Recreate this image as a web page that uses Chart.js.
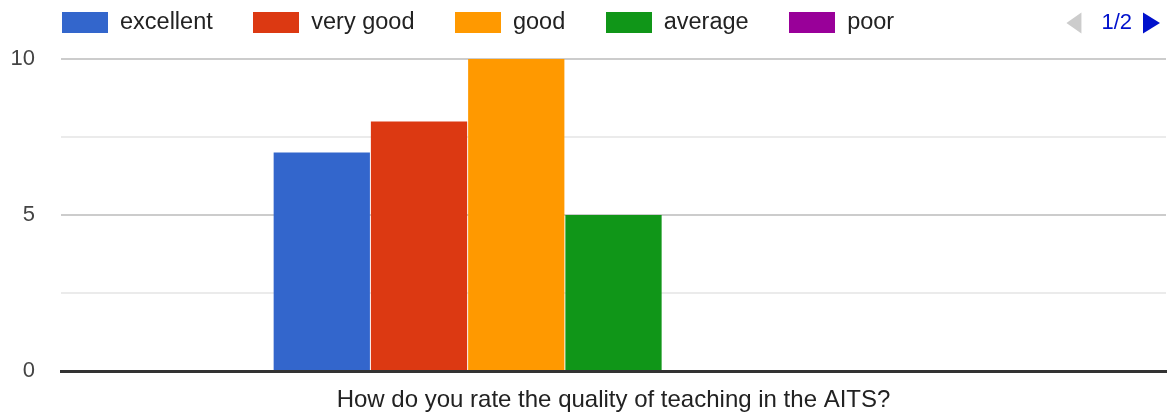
<!DOCTYPE html>
<html>
<head>
<meta charset="utf-8">
<script src="https://cdn.jsdelivr.net/npm/chart.js@4/dist/chart.umd.min.js"></script>
<style>
  html, body { margin: 0; padding: 0; background: #ffffff; }
  #wrap { width: 1170px; height: 414px; }
</style>
</head>
<body>
<div id="wrap"><canvas id="c" width="1170" height="414"></canvas></div>
<script>
// ---- data ----
const categories = ["How do you rate the quality of teaching in the AITS?"];
const seriesNames = ["excellent", "very good", "good", "average", "poor", "(page 2 a)", "(page 2 b)"];
const excellent = [7];
const veryGood = [8];
const good = [10];
const average = [5];
const poor = [0];
const page2a = [0];
const page2b = [0];
const yTickLabels = [0, 5, 10];
const legendPageLabel = "1/2";
const legendShownCount = 5;

// ---- style ----
const colors = ["#3366cc", "#dc3912", "#ff9900", "#109618", "#990099", "#0099c6", "#dd4477"];
const FONT = '"Liberation Sans", Arial, sans-serif';
const seriesValues = [excellent, veryGood, good, average, poor, page2a, page2b];

const legendPlugin = {
  id: 'gLegend',
  afterDraw(chart) {
    const ctx = chart.ctx;
    ctx.save();
    ctx.font = '23.5px ' + FONT;
    ctx.textBaseline = 'middle';
    ctx.textAlign = 'left';
    let x = 62;
    const boxW = 46, boxH = 21, boxY = 12, textGap = 12, itemGap = 40.5;
    const midY = 23;
    chart.data.datasets.slice(0, legendShownCount).forEach(ds => {
      ctx.fillStyle = ds.backgroundColor;
      ctx.fillRect(Math.round(x), boxY, boxW, boxH);
      x += boxW + textGap;
      ctx.fillStyle = '#222222';
      ctx.fillText(ds.label, x, midY);
      x += ctx.measureText(ds.label).width + itemGap;
    });
    // paging controls
    const right = 1160;
    const aTop = 12.5, aBot = 33.5;
    // right arrow (active)
    ctx.fillStyle = '#0011cc';
    ctx.beginPath();
    ctx.moveTo(right - 17, aTop);
    ctx.lineTo(right, (aTop + aBot) / 2);
    ctx.lineTo(right - 17, aBot);
    ctx.closePath();
    ctx.fill();
    // page text
    ctx.font = '22px ' + FONT;
    ctx.textAlign = 'right';
    const textRight = 1132;
    ctx.fillText(legendPageLabel, textRight, midY);
    const tw = ctx.measureText(legendPageLabel).width;
    // left arrow (disabled)
    const lx = textRight - tw - 20;
    ctx.fillStyle = '#cccccc';
    ctx.beginPath();
    ctx.moveTo(lx, aTop);
    ctx.lineTo(lx - 15, (aTop + aBot) / 2);
    ctx.lineTo(lx, aBot);
    ctx.closePath();
    ctx.fill();
    ctx.restore();
  }
};

new Chart(document.getElementById('c'), {
  type: 'bar',
  data: {
    labels: categories,
    datasets: seriesNames.map((name, i) => ({
      label: name,
      data: seriesValues[i],
      backgroundColor: colors[i],
      borderWidth: 0,
      barPercentage: 0.99,
      categoryPercentage: 0.616
    }))
  },
  options: {
    responsive: false,
    animation: false,
    devicePixelRatio: 1,
    layout: { padding: { top: 59, right: 4, left: 0, bottom: 0 } },
    plugins: {
      legend: { display: false },
      tooltip: { enabled: false },
      title: { display: false }
    },
    scales: {
      x: {
        z: 1,
        grid: { display: false, drawTicks: false },
        border: { display: true, color: '#333333', width: 3 },
        ticks: {
          color: '#222222',
          font: { family: FONT, size: 24 },
          padding: 15,
          maxRotation: 0,
          autoSkip: false
        },
        afterFit(scale) { scale.height = 43; }
      },
      y: {
        min: 0,
        max: 10,
        grid: {
          drawTicks: false,
          lineWidth: 2,
          color(ctx) {
            const v = ctx.tick ? ctx.tick.value : null;
            if (v === 0) return 'rgba(0,0,0,0)';
            return (v % 5 === 0) ? '#cccccc' : '#ebebeb';
          }
        },
        border: { display: false },
        ticks: {
          stepSize: 2.5,
          color: '#444444',
          font: { family: FONT, size: 22 },
          padding: 26,
          callback(v) { return yTickLabels.includes(v) ? String(v) : ''; }
        },
        afterFit(scale) { scale.width = 61; }
      }
    }
  },
  plugins: [legendPlugin]
});
</script>
</body>
</html>
